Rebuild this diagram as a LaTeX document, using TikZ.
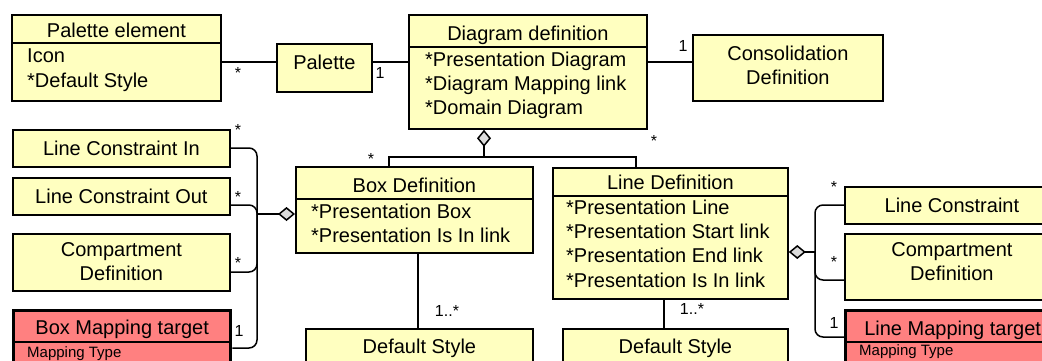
\documentclass[tikz,border=0pt]{standalone}
\usepackage{fontspec}
\setmainfont{Liberation Sans}
\usetikzlibrary{arrows.meta}
\definecolor{classyellow}{RGB}{255,255,192}
\definecolor{targetred}{RGB}{255,128,128}
\definecolor{diamondgray}{RGB}{220,220,220}
\begin{document}
\begin{tikzpicture}
[x=1pt,y=-1pt,%
  font=\fontsize{20}{24}\selectfont,%
  classdecorate/.style={draw,line width=1.8pt,fill=classyellow,anchor=north west,inner sep=0pt},%
  targetdecorate/.style={draw,line width=3.3pt,fill=targetred,anchor=north west,inner sep=0pt},%
  titledecorate/.style={anchor=base,inner sep=0pt},%
  attrdecorate/.style={anchor=base west,inner sep=0pt},%
  smalldecorate/.style={anchor=base west,inner sep=0pt,font=\fontsize{15}{18}\selectfont},%
  multdecorate/.style={anchor=base,inner sep=0pt,font=\fontsize{16}{19}\selectfont},%
  linedecorate/.style={line width=1.5pt},%
  aggrdecorate/.style={line width=1.5pt,-{Diamond[length=17pt 0 0,width=14pt 0 0,fill=diamondgray]}},%
  bracedecorate/.style={line width=1.5pt,rounded corners=8pt}]
\useasboundingbox (0,0) rectangle (1042,360);
\clip (0,0) rectangle (1042,360);
%% class boxes
\foreach \nodename/\kind/\x/\y/\w/\h in {paletteelem/classdecorate/11/14/209/86,
  palette/classdecorate/276/43/95/48, diagdef/classdecorate/408/14/238/114,
  consol/classdecorate/692/34/190/66, lcin/classdecorate/12/129/217/37,
  lcout/classdecorate/12/177/217/37, compdefbox/classdecorate/12/233/217/57,
  boxmap/targetdecorate/12/309/217/80, boxdef/classdecorate/295/166/237/86,
  linedef/classdecorate/552/167/235/131, defstyleb/classdecorate/305/328/227/60,
  defstylel/classdecorate/562/328/225/60, linecons/classdecorate/844/186/214/37,
  compdefline/classdecorate/844/233/214/66, linemap/targetdecorate/844/309/214/80} {
  \node (\nodename) at (\x,\y) [\kind,minimum width=\w,minimum height=\h] {};
}
%% header dividers
\foreach \nodename/\y in {paletteelem/43, diagdef/47, boxdef/199, linedef/196,
  boxmap/342, linemap/342} {
  \draw[linedecorate] (\nodename.west |- 0,\y) -- (\nodename.east |- 0,\y);
}
%% titles
\foreach \nodename/\y/\txt [count=\i] in {paletteelem/37/Palette element,
  palette/69/Palette, diagdef/40/Diagram definition, consol/60/Consolidation,
  consol/84/Definition, lcin/155/Line Constraint In, lcout/203/Line Constraint Out,
  compdefbox/256/Compartment, compdefbox/280/Definition,
  boxmap/334/Box Mapping target, boxdef/192/Box Definition,
  linedef/189/Line Definition, defstyleb/353/Default Style,
  defstylel/353/Default Style, linecons/212/Line Constraint,
  compdefline/256/Compartment, compdefline/280/Definition,
  linemap/335/Line Mapping target} {
  \node (title\i) at (\nodename.north |- 0,\y) [titledecorate] {\txt};
}
%% attributes
\foreach \x/\y/\txt [count=\i] in {27/62/Icon, 27/87/*Default Style,
  425/66/*Presentation Diagram, 425/90/*Diagram Mapping link,
  425/114/*Domain Diagram, 311/218/*Presentation Box,
  311/242/*Presentation Is In link, 566/214/*Presentation Line,
  566/238/*Presentation Start link, 566/262/*Presentation End link,
  566/287/*Presentation Is In link} {
  \node (attr\i) at (\x,\y) [attrdecorate] {\txt};
}
\node (maptypeb) at (27,357) [smalldecorate] {Mapping Type};
\node (maptypel) at (859,355) [smalldecorate] {Mapping Type};
%% associations
\draw[linedecorate] (paletteelem.east |- 0,62) -- (palette.west |- 0,62);
\draw[linedecorate] (palette.east |- 0,62) -- (diagdef.west |- 0,62);
\draw[linedecorate] (diagdef.east |- 0,62) -- (consol.west |- 0,62);
\draw[linedecorate] (boxdef.south -| 418,0) -- (defstyleb.north -| 418,0);
\draw[linedecorate] (linedef.south -| 664,0) -- (defstylel.north -| 664,0);
%% aggregations
\coordinate (topbus) at (484,157);
\draw[linedecorate] (boxdef.north -| 389,0) |- (topbus) -| (linedef.north -| 636,0);
\draw[aggrdecorate] (topbus) -- (diagdef.south -| topbus);
\coordinate (lefthub) at (257,214);
\foreach \nodename/\y in {lcin/148, lcout/205, compdefbox/272, boxmap/348} {
  \draw[bracedecorate] (\nodename.east |- 0,\y) -| (lefthub);
}
\draw[aggrdecorate] (lefthub) -- (boxdef.west |- lefthub);
\coordinate (righthub) at (815,252);
\foreach \nodename/\y in {linecons/205, compdefline/280, linemap/337} {
  \draw[bracedecorate] (\nodename.west |- 0,\y) -| (righthub);
}
\draw[aggrdecorate] (righthub) -- (linedef.east |- righthub);
%% multiplicities
\foreach \x/\y/\txt [count=\i] in {238/78/*, 380/78/1, 683/51/1, 654/146/*,
  371/164/*, 238/135/*, 238/202/*, 238/268/*, 239/336/1, 834/192/*,
  834/267/*, 834/328/1, 447/316/1..*, 692/314/1..*} {
  \node (mult\i) at (\x,\y) [multdecorate] {\txt};
}
\end{tikzpicture}
\end{document}
